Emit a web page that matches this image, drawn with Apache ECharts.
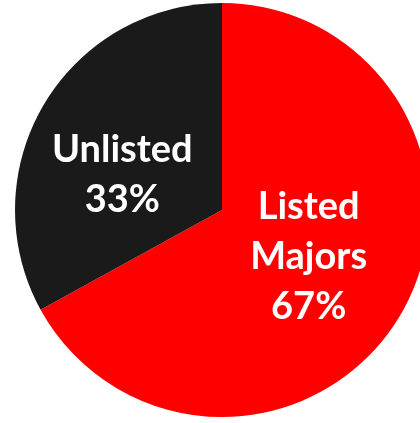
<!DOCTYPE html>
<html>
<head>
<meta charset="utf-8">
<script src="https://cdn.jsdelivr.net/npm/echarts@6/dist/echarts.min.js"></script>
<style>
html,body{margin:0;padding:0;background:#fff;}
#chart{width:420px;height:423px;}
</style>
</head>
<body>
<div id="chart"></div>
<script>
const categories = ["Listed\nMajors", "Unlisted"];
const values = [67, 33];
const colors = ["#ff0000", "#1a1a1a"];

const chart = echarts.init(document.getElementById('chart'), null, {renderer: 'canvas'});
chart.setOption({
  backgroundColor: '#ffffff',
  animation: false,
  series: [{
    type: 'pie',
    center: [222, 210],
    radius: [0, 207],
    startAngle: 90,
    clockwise: true,
    avoidLabelOverlap: false,
    emphasis: {disabled: true},
    itemStyle: {borderWidth: 0},
    label: {
      show: true,
      position: 'inside',
      color: '#ffffff',
      fontFamily: 'Lato',
      fontWeight: 'bold',
      fontSize: 38,
      lineHeight: 50,
      align: 'center',
      formatter: function (p) { return p.name + '\n' + Math.round(p.percent) + '%'; }
    },
    labelLine: {show: false},
    labelLayout: function (p) {
      if (p.dataIndex === 1) return {dx: -8, dy: 19};
      return {dx: -5, dy: -7};
    },
    data: categories.map(function (c, i) {
      return {name: c, value: values[i], itemStyle: {color: colors[i]}};
    })
  }]
});
</script>
</body>
</html>
